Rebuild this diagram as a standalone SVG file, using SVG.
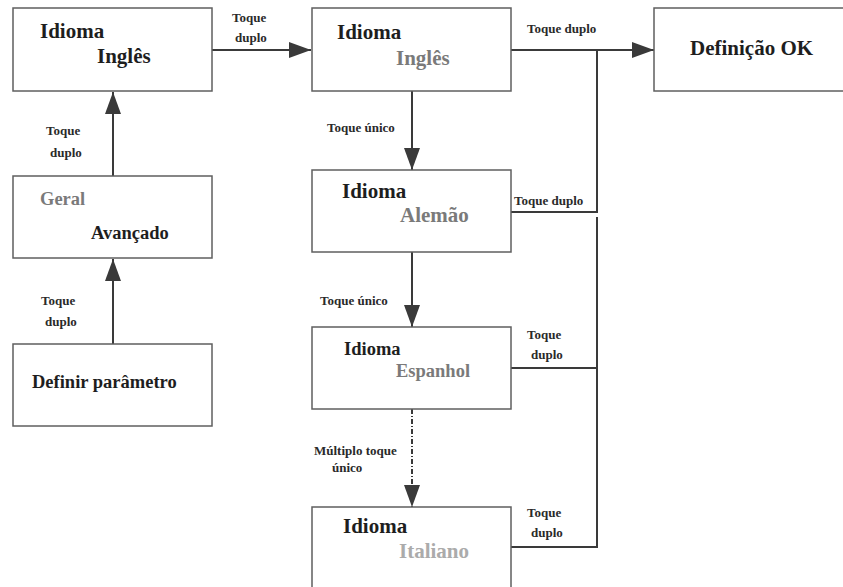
<svg xmlns="http://www.w3.org/2000/svg" width="843" height="587" viewBox="0 0 843 587">
  <style>
    .box { fill: #ffffff; stroke: #5f5f5f; stroke-width: 1.5; }
    .wire { fill: none; stroke: #3a3a3a; stroke-width: 2; }
    .dashdot { stroke-dasharray: 5 2 1 2; }
    text { font-family: "Liberation Serif", "Times New Roman", serif; font-weight: bold; }
    .big { font-size: 21px; fill: #1e1e1e; }
    .mid { font-size: 18.5px; fill: #1e1e1e; }
    .gray { fill: #7a7a7a; }
    .light { fill: #ababab; }
    .lbl { font-size: 13px; fill: #2a2a2a; }
  </style>
  <defs>
    <marker id="arrow" markerUnits="userSpaceOnUse" markerWidth="23" markerHeight="16" refX="22" refY="8" orient="auto">
      <path d="M0,0 L22,8 L0,16 z" fill="#3a3a3a"/>
    </marker>
  </defs>

  <rect width="843" height="587" fill="#ffffff"/>

  <!-- connectors -->
  <g id="connectors">
    <line class="wire" x1="212" y1="50" x2="311" y2="50" marker-end="url(#arrow)"/>
    <line class="wire" x1="113" y1="176" x2="113" y2="92" marker-end="url(#arrow)"/>
    <line class="wire" x1="113" y1="344" x2="113" y2="259" marker-end="url(#arrow)"/>
    <line class="wire" x1="412" y1="91" x2="412" y2="170" marker-end="url(#arrow)"/>
    <line class="wire" x1="412" y1="252" x2="412" y2="327" marker-end="url(#arrow)"/>
    <line class="wire dashdot" x1="412" y1="409" x2="412" y2="507" marker-end="url(#arrow)"/>
    <line class="wire" x1="511" y1="50" x2="654" y2="50" marker-end="url(#arrow)"/>
    <path class="wire" d="M511,212 H597 V50"/>
    <path class="wire" d="M511,368 H597"/>
    <path class="wire" d="M511,547 H597 V217"/>

    <text class="lbl" x="232" y="22">Toque</text>
    <text class="lbl" x="235" y="42">duplo</text>
    <text class="lbl" x="46" y="135">Toque</text>
    <text class="lbl" x="50" y="157">duplo</text>
    <text class="lbl" x="41" y="305">Toque</text>
    <text class="lbl" x="45" y="326">duplo</text>
    <text class="lbl" x="327" y="132">Toque único</text>
    <text class="lbl" x="320" y="305">Toque único</text>
    <text class="lbl" x="314" y="455">Múltiplo toque</text>
    <text class="lbl" x="332" y="472">único</text>
    <text class="lbl" x="527" y="33">Toque duplo</text>
    <text class="lbl" x="514" y="205">Toque duplo</text>
    <text class="lbl" x="527" y="339">Toque</text>
    <text class="lbl" x="531" y="359">duplo</text>
    <text class="lbl" x="527" y="517">Toque</text>
    <text class="lbl" x="531" y="537">duplo</text>
  </g>

  <!-- left column -->
  <g id="idioma-ingles">
    <rect class="box" x="13" y="8" width="199" height="83"/>
    <text class="big" x="40" y="38">Idioma</text>
    <text class="big" x="97" y="63">Inglês</text>
  </g>
  <g id="geral-avancado">
    <rect class="box" x="13" y="176" width="199" height="82"/>
    <text class="mid gray" x="40" y="205">Geral</text>
    <text class="mid" x="91" y="239">Avançado</text>
  </g>
  <g id="definir-parametro">
    <rect class="box" x="13" y="344" width="199" height="82"/>
    <text class="mid" x="32" y="388">Definir parâmetro</text>
  </g>

  <!-- language selection column -->
  <g id="sel-ingles">
    <rect class="box" x="312" y="8" width="199" height="83"/>
    <text class="big" x="337" y="39">Idioma</text>
    <text class="big gray" x="396" y="65">Inglês</text>
  </g>
  <g id="sel-alemao">
    <rect class="box" x="312" y="170" width="199" height="82"/>
    <text class="big" x="342" y="198">Idioma</text>
    <text class="big gray" x="400" y="222">Alemão</text>
  </g>
  <g id="sel-espanhol">
    <rect class="box" x="312" y="327" width="199" height="82"/>
    <text class="mid" x="344" y="355">Idioma</text>
    <text class="mid gray" x="396" y="377">Espanhol</text>
  </g>
  <g id="sel-italiano">
    <rect class="box" x="312" y="507" width="199" height="90"/>
    <text class="big" x="343" y="533">Idioma</text>
    <text class="big light" x="399" y="558">Italiano</text>
  </g>

  <!-- result -->
  <g id="definicao-ok">
    <rect class="box" x="654" y="8" width="195" height="83"/>
    <text class="big" x="690" y="55">Definição OK</text>
  </g>
</svg>
